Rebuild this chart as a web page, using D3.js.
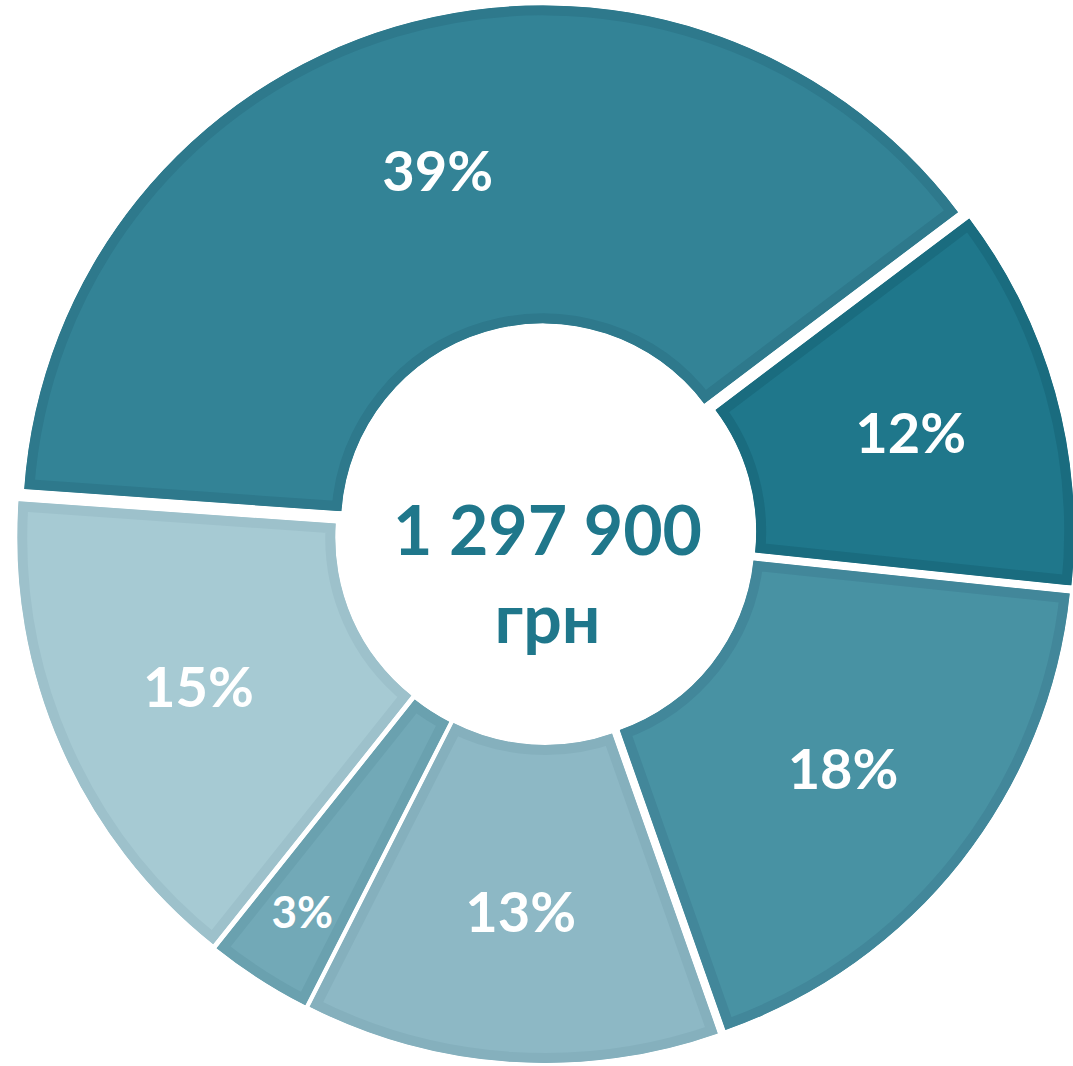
<!DOCTYPE html>
<html>
<head>
<meta charset="utf-8">
<script src="https://cdn.jsdelivr.net/npm/d3@7"></script>
<style>
  body { margin: 0; background: #fff; }
  svg { display: block; }
</style>
</head>
<body>
<div id="chart"></div>
<script>
// slices, clockwise starting from the big one at the top
let amounts = [501000, 155000, 233000, 167000, 42000, 199900];
let unit = "грн";

let fills = ["#338396", "#1f778b", "#4892a3", "#8db8c5", "#72a9b7", "#a6cad3"];
let borders = ["#2e798c", "#1a6c7f", "#42879a", "#85b0bd", "#6aa1af", "#9dc1cb"];

const width = 1073;
const height = 1066;
const cx = 545.5;
const cy = 534;
const innerR = 202;
const outerR = 520;
const explode = 9;
const startDeg = 274;

const total = d3.sum(amounts);
const fmt = d3.formatLocale({ decimal: ",", thousands: " ", grouping: [3], currency: ["", ""] }).format(",");

const svg = d3
  .select("#chart")
  .append("svg")
  .attr("width", width)
  .attr("height", height);

const pie = d3
  .pie()
  .sort(null)
  .value((d) => d)
  .startAngle((startDeg * Math.PI) / 180)
  .endAngle((startDeg * Math.PI) / 180 + 2 * Math.PI);

const arc = d3.arc().innerRadius(innerR).outerRadius(outerR);
const labelArc = d3.arc().innerRadius(370).outerRadius(370);
const smallLabelArc = d3.arc().innerRadius(441).outerRadius(441);

const arcs = pie(amounts);

const defs = svg.append("defs");
defs
  .selectAll("clipPath")
  .data(arcs)
  .enter()
  .append("clipPath")
  .attr("id", (d, i) => "clip" + i)
  .append("path")
  .attr("d", arc);

const root = svg.append("g").attr("transform", `translate(${cx},${cy})`);

const slice = root
  .selectAll("g.slice")
  .data(arcs)
  .enter()
  .append("g")
  .attr("class", "slice")
  .attr("transform", (d) => {
    const mid = (d.startAngle + d.endAngle) / 2;
    return `translate(${explode * Math.sin(mid)},${-explode * Math.cos(mid)})`;
  });

// fill plus a darker border drawn on the inside only
slice
  .append("path")
  .attr("d", arc)
  .attr("fill", (d, i) => fills[i])
  .attr("stroke", (d, i) => borders[i])
  .attr("stroke-width", 20)
  .attr("stroke-linejoin", "miter")
  .attr("clip-path", (d, i) => `url(#clip${i})`);

slice
  .append("text")
  .attr("transform", (d) => {
    const small = d.value / total < 0.05;
    const c = small ? smallLabelArc.centroid(d) : labelArc.centroid(d);
    return `translate(${c[0]},${c[1]})`;
  })
  .attr("text-anchor", "middle")
  .attr("dy", "0.36em")
  .attr("font-family", "Lato, 'Open Sans', sans-serif")
  .attr("font-weight", 700)
  .attr("font-size", (d) => (d.value / total < 0.05 ? 44 : 56))
  .attr("fill", "#fff")
  .text((d) => Math.round((d.value / total) * 100) + "%");

// total in the hole
root
  .append("text")
  .attr("text-anchor", "middle")
  .attr("x", 2)
  .attr("y", 21)
  .attr("font-family", "Lato, 'Open Sans', sans-serif")
  .attr("font-weight", 700)
  .attr("font-size", 68)
  .attr("fill", "#1f778b")
  .text(fmt(total));

root
  .append("text")
  .attr("text-anchor", "middle")
  .attr("x", 2)
  .attr("y", 109)
  .attr("font-family", "Lato, 'Open Sans', sans-serif")
  .attr("font-weight", 700)
  .attr("font-size", 68)
  .attr("fill", "#1f778b")
  .text(unit);
</script>
</body>
</html>
